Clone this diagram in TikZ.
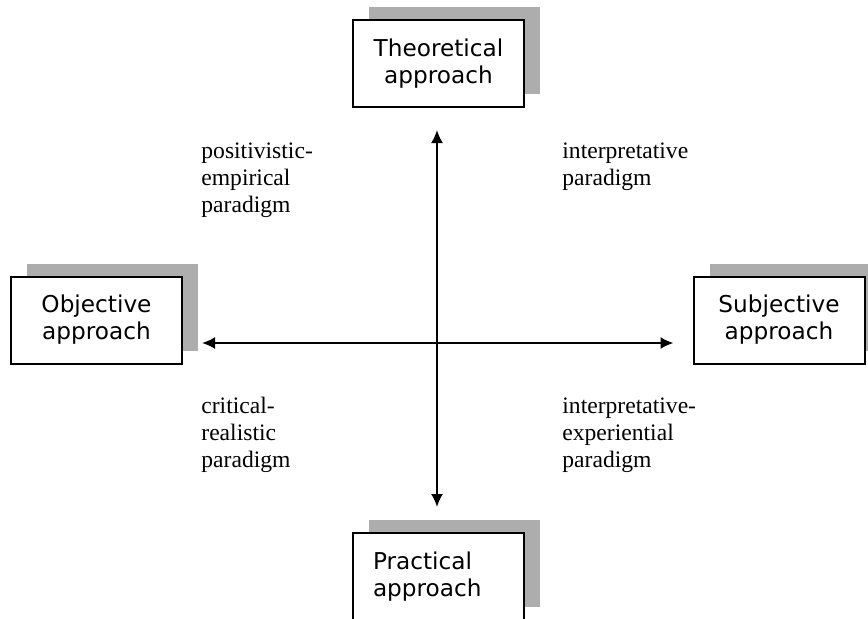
\documentclass[tikz,border=0pt]{standalone}
\usepackage{fontspec}
\newfontfamily\boxsans{DejaVu Sans}
\newfontfamily\parserif{Liberation Serif}
\usetikzlibrary{positioning,shapes,arrows.meta,shadows}

\begin{document}
\begin{tikzpicture}[x=0.5pt,y=-0.5pt,
										approach/.style={draw,line width=1pt,fill=white,text width=65.5pt,inner xsep=10pt,minimum height=43.5pt,align=center,
											font=\boxsans\fontsize{11.6}{13.5}\selectfont,
											general shadow={fill=black!32,shadow xshift=8pt,shadow yshift=6.5pt}},
										paradigm/.style={anchor=west,inner sep=0pt,align=left,font=\parserif\fontsize{11.8}{13.5}\selectfont},
										axis/.style={line width=1pt,{Latex[length=6.5pt,width=6pt]}-{Latex[length=6.5pt,width=6pt]}}
										]
	\useasboundingbox (0,0) rectangle (868,618);
	\node[approach] (theo) at (438.5,63.5) {Theoretical\\approach};
	\node[approach] (obj) at (96.5,320) {Objective\\approach};
	\node[approach] (subj) at (779,320) {Subjective\\approach};
	\node[approach,align=left] (prac) at (438.5,576.5) {Practical\\approach};

	\draw[axis,shorten <=11pt,shorten >=12.5pt] ([xshift=-0.75pt]theo.south) -- ([xshift=-0.75pt]prac.north);
	\draw[axis,shorten <=9.5pt,shorten >=9.5pt] ([yshift=-11.5pt]obj.east) -- ([yshift=-11.5pt]subj.west);

	\node[paradigm] (pe) at (201,180) {positivistic-\\empirical\\paradigm};
	\node[paradigm] (ip) at (562,167) {interpretative\\paradigm};
	\node[paradigm] (cr) at (201,435) {critical-\\realistic\\paradigm};
	\node[paradigm] (ie) at (562,435) {interpretative-\\experiential\\paradigm};
\end{tikzpicture}
\end{document}
